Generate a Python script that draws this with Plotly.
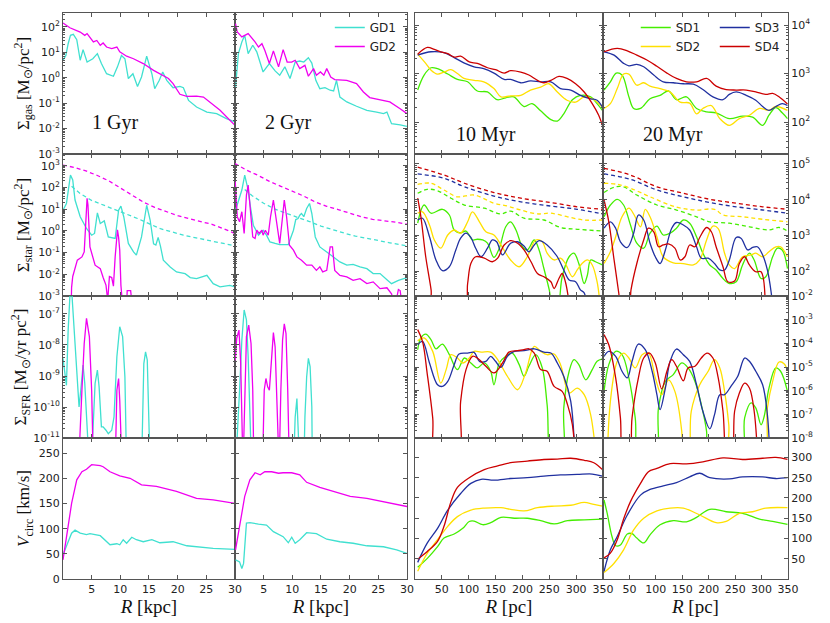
import math
import numpy as np
import plotly.graph_objects as go

# ---------------------------------------------------------------
# Left block: galaxy discs GD1 / GD2, R in kpc
# Log-panels keep log10 of the value
# ---------------------------------------------------------------

# row 1: Sigma_gas, log10 [Msun/pc^2]
gas_gd1_1gyr_r = [0, 0.5, 0.9, 1.3, 1.8, 2.4, 3.0, 3.5, 4.2, 5.2, 6.0, 6.7, 7.6, 8.8, 9.5, 10.2, 10.8, 11.4, 12.2, 13.0,
                  13.7, 14.6, 15.5, 16.0, 16.8, 17.4, 18.1, 19.2, 20.4, 21.0, 21.9, 23.3, 25.1, 26.8, 28.5, 30]
gas_gd1_1gyr = [0.69, 0.88, 1.34, 1.67, 1.71, 1.50, 0.69, 1.11, 0.62, 0.75, 0.95, 0.56, 0.16, 0.06, 0.43, 0.88, 0.75, -0.03, 0.16, -0.34,
                0.03, 0.85, 0.16, -0.43, -0.10, 0.23, -0.10, -0.39, -0.34, -0.39, -0.89, -1.15, -1.35, -1.41, -1.61, -1.74]
gas_gd2_1gyr_r = [0, 1.2, 3.0, 3.8, 4.2, 4.8, 5.3, 5.9, 6.5, 7.0, 7.6, 8.5, 9.4, 9.9, 11.1, 12.3, 14.0, 15.8, 16.9, 18.4,
                  19.2, 20.4, 21.6, 23.3, 24.5, 25.6, 27.4, 30]
gas_gd2_1gyr = [2.16, 1.97, 1.80, 1.67, 1.74, 1.58, 1.41, 1.47, 1.28, 1.37, 1.21, 1.15, 1.21, 1.02, 0.85, 0.75, 0.56, 0.29, 0.16, -0.03,
                -0.23, -0.65, -0.73, -0.72, -0.76, -0.95, -1.28, -1.87]
gas_gd1_2gyr_r = [0.1, 0.6, 1.2, 1.7, 2.3, 3.1, 3.8, 4.9, 6.0, 7.0, 7.8, 8.7, 9.6, 10.5, 11.3, 12.0, 12.8, 13.4, 14.1, 14.8,
                  15.7, 16.6, 17.2, 17.7, 18.3, 19.5, 21.2, 23.0, 24.7, 25.9, 26.5, 27.3, 28.8, 30]
gas_gd1_2gyr = [-0.36, 0.95, 1.41, 1.67, 0.95, 1.28, 1.02, 0.23, 0.56, 0.27, 0.10, 0.43, -0.03, 0.62, 0.66, 0.62, 0.79, 0.58, -0.10, -0.43,
                -0.39, -0.49, -0.52, -0.10, -0.76, -0.95, -1.12, -1.28, -1.35, -1.41, -1.35, -1.81, -1.85, -1.91]
gas_gd2_2gyr_r = [0.1, 0.4, 1.2, 2.3, 3.5, 4.1, 4.7, 5.2, 6.0, 6.7, 7.6, 8.4, 9.1, 9.9, 10.5, 11.3, 12.2, 12.8, 13.7, 14.2,
                  14.9, 15.5, 16.0, 16.7, 17.4, 19.5, 21.2, 22.4, 23.5, 25.3, 27.0, 28.8, 30]
gas_gd2_2gyr = [2.13, 1.80, 1.61, 1.74, 1.41, 1.21, 1.34, 1.08, 0.56, 1.06, 0.43, 1.11, 0.62, 0.62, 0.69, 0.36, 0.49, 0.06, 0.36, 0.10,
                0.23, 0.10, 0.36, 0.03, -0.07, -0.10, -0.23, -0.56, -0.78, -0.86, -0.95, -1.22, -1.41]

# row 2: Sigma_star, log10 [Msun/pc^2]  (solid = new stars, dashed = disc)
star_gd1_1gyr_r = [0, 0.6, 1.3, 1.7, 2.1, 3.0, 4.1, 5.0, 5.5, 6.0, 6.5, 7.2, 7.9, 9.1, 9.7, 10.1, 10.6, 11.4, 12.3, 12.8,
                   13.7, 14.6, 15.2, 15.8, 16.2, 16.6, 17.0, 17.5, 18.7, 19.8, 21.3, 22.2, 23.3, 25.1, 26.2, 27.4, 29.1, 30]
star_gd1_1gyr = [0.95, 1.26, 2.57, 2.34, 1.42, 0.65, 0.11, -0.20, -0.12, 0.83, 0.34, 0.46, -0.28, -0.35, 0.95, 1.14, 0.65, -0.58, -0.97, -1.12,
                 -0.28, 1.18, 0.50, -0.60, -0.65, -0.30, -0.70, -1.35, -1.66, -1.89, -1.97, -2.15, -2.20, -2.05, -2.43, -2.58, -2.51, -2.58]
star_gd2_1gyr_r = [0, 1.3, 1.5, 1.7, 2.5, 3.3, 3.7, 3.95, 4.1, 4.2, 4.35, 4.5, 4.7, 5.6, 6.5, 7.0, 7.5, 7.8, 8.1, 8.5,
                   8.8, 9.1, 9.3, 9.5, 9.7, 9.9, 10.1, 10.4, 10.9, 11.2, 11.8, 12.1, 12.5, 20.5, 20.7, 20.9, 30]
star_gd2_1gyr = [-5, -5, -2.6, -2.1, -1.35, -1.2, -0.97, 0.2, 1.2, 1.5, 1.2, 0.2, -0.74, -1.58, -1.74, -2.15, -2.5, -3.2, -2.1, -2.15,
                 -2.55, -1.2, -0.3, 0.05, -0.3, -0.9, -2.5, -3.5, -5, -2.75, -2.75, -3.5, -5, -5, -2.95, -5, -5]
disc_gd1_1gyr_r = [1.5, 3, 5, 7, 9, 11, 13, 15, 17, 19, 21, 23, 25, 27, 30]
disc_gd1_1gyr = [2.05, 1.72, 1.40, 1.20, 1.00, 0.80, 0.57, 0.33, 0.10, -0.05, -0.20, -0.31, -0.42, -0.53, -0.69]
disc_gd2_1gyr_r = [0, 2, 4, 6, 8, 10, 12, 14, 16, 18, 20, 22, 24, 26, 28, 30]
disc_gd2_1gyr = [3.03, 2.92, 2.76, 2.55, 2.30, 1.98, 1.65, 1.33, 1.08, 0.88, 0.70, 0.56, 0.43, 0.30, 0.10, -0.12]
star_gd1_2gyr_r = [0.1, 0.6, 1.2, 1.7, 2.3, 2.7, 3.2, 4.1, 4.9, 5.5, 6.1, 7.0, 7.8, 9.3, 10.2, 10.6, 11.0, 11.3, 11.6, 12.0,
                   12.5, 13.0, 13.4, 14.0, 14.8, 16.0, 17.2, 18.3, 19.5, 20.6, 21.8, 23.0, 24.1, 25.3, 26.5, 27.3, 28.5, 29.4, 30]
star_gd1_2gyr = [0.95, 1.42, 1.88, 2.57, 1.88, 1.11, 0.26, -0.20, 0.03, -0.20, -0.51, -0.58, -0.63, -0.63, 0.03, 0.52, 0.57, 0.72, 0.80, 0.65,
                 1.03, 1.26, 0.80, -0.28, -0.74, -0.97, -1.20, -1.43, -1.58, -1.54, -1.66, -1.74, -1.97, -1.97, -2.25, -2.43, -2.28, -2.20, -2.15]
star_gd2_2gyr_r = [0.05, 0.4, 0.8, 1.2, 1.6, 2.0, 2.3, 2.7, 3.1, 3.5, 3.8, 4.2, 4.7, 4.9, 5.3, 5.8, 6.2, 6.7, 7.1, 7.6,
                   7.8, 8.3, 8.6, 9.0, 9.5, 10.2, 10.8, 11.6, 12.5, 13.4, 14.2, 14.8, 15.3, 16.0, 16.3, 16.6, 17.0, 17.4, 18.3, 19.5,
                   20.6, 21.8, 23.0, 24.1, 25.3, 26.5, 27.3, 27.9, 28.5, 28.8, 29.2, 30]
star_gd2_2gyr = [2.26, 0.65, 0.42, 0.88, -0.12, 1.65, 2.11, 0.95, -0.28, -0.35, 0.03, -0.12, 0.03, -0.20, 0.03, -0.20, 0.65, 1.42, 0.65, -0.43,
                 -0.58, 0.65, 1.42, 0.65, -0.66, -0.89, -1.20, -1.35, -1.58, -1.58, -1.82, -1.66, -1.89, -1.82, -1.2, -0.74, -0.74, -1.82, -2.05, -2.12,
                 -2.28, -2.20, -2.43, -2.35, -2.66, -2.62, -2.90, -3.5, -2.70, -2.75, -3.5, -3.5]
disc_gd1_2gyr_r = [1.7, 3, 5, 7, 9, 11, 13, 15, 17, 19, 21, 23, 25, 27, 30]
disc_gd1_2gyr = [1.90, 1.62, 1.27, 1.00, 0.80, 0.62, 0.43, 0.22, 0.05, -0.10, -0.24, -0.35, -0.45, -0.55, -0.69]
disc_gd2_2gyr_r = [0, 2, 4, 6, 8, 10, 12, 14, 16, 18, 20, 22, 24, 26, 28, 30]
disc_gd2_2gyr = [3.10, 2.80, 2.56, 2.28, 2.05, 1.82, 1.60, 1.33, 1.13, 0.98, 0.82, 0.65, 0.53, 0.47, 0.40, 0.31]

# row 3: Sigma_SFR, log10 [Msun/yr pc^2]
sfr_gd1_1gyr_r = [0, 0.5, 0.6, 0.9, 1.2, 1.5, 1.9, 2.4, 2.8, 3.1, 3.5, 3.8, 4.2, 4.6, 5.2, 5.6, 6.0, 6.3, 6.7, 7.0,
                  7.5, 7.9, 8.5, 8.9, 9.4, 9.9, 10.4, 10.8, 11.1, 13.7, 14.1, 14.4, 14.7, 15.2, 30]
sfr_gd1_1gyr = [-8.43, -9.13, -9.3, -7.52, -6.44, -6.2, -7.3, -8.92, -10.0, -9.46, -8.65, -9.24, -10.75, -12, -10.86, -9.24, -8.81, -9.35, -10.64, -10.64,
                -10.75, -10.86, -10.75, -10.32, -8.38, -7.41, -7.73, -9.03, -12, -12, -8.6, -8.22, -8.49, -12, -12]
sfr_gd2_1gyr_r = [0, 2.7, 3.3, 3.7, 4.1, 4.6, 5.0, 5.3, 9.1, 9.4, 9.7, 9.9, 10.3, 30]
sfr_gd2_1gyr = [-12, -12, -9.46, -7.95, -7.14, -7.73, -9.46, -12, -12, -9.46, -9.08, -9.78, -12, -12]
sfr_gd1_2gyr_r = [0, 0.1, 0.8, 1.2, 1.6, 2.0, 2.3, 2.6, 2.9, 10.2, 10.5, 10.8, 11.0, 11.3, 12.0, 12.2, 12.5, 12.8, 13.1, 13.4, 13.5, 30]
sfr_gd1_2gyr = [-12, -12, -9.46, -7.84, -6.87, -7.19, -8.38, -10.54, -12, -12, -10.32, -9.73, -10.32, -12, -12, -10.32, -9.03, -8.43, -8.7, -10.0, -12, -12]
sfr_gd2_2gyr_r = [0.05, 0.3, 0.7, 1.0, 1.4, 1.75, 2.0, 2.4, 2.8, 3.1, 3.3, 4.8, 5.1, 5.4, 5.7, 6.0, 6.3, 6.7, 7.0, 7.4,
                  7.7, 8.0, 8.3, 8.6, 8.9, 9.2, 9.5, 30]
sfr_gd2_2gyr = [-8.49, -7.79, -7.52, -8.6, -12, -9.5, -7.73, -7.36, -7.95, -9.46, -12, -12, -9.46, -9.08, -9.35, -9.46, -8.6, -7.6, -8.06, -10.0,
                -12, -9.46, -7.84, -7.32, -7.63, -9.46, -12, -12]

# row 4: V_circ [km/s]
vc_gd1_1gyr_r = [0, 0.6, 1.5, 2.1, 3.0, 4.1, 4.7, 6.5, 8.2, 9.4, 9.9, 10.5, 11.1, 12.0, 12.8, 14.0, 15.5, 16.9, 19.2, 21.6, 23.3, 26.2, 30]
vc_gd1_1gyr = [48, 64, 91, 97, 91, 88, 90, 86, 68, 70, 68, 78, 71, 83, 78, 74, 78, 72, 74, 66, 64, 61, 59]
vc_gd2_1gyr_r = [0, 0.6, 1.5, 2.4, 3.3, 4.1, 5.0, 6.5, 7.0, 8.2, 9.9, 11.7, 13.7, 16.3, 19.8, 23.3, 26.2, 30]
vc_gd2_1gyr = [38, 84, 150, 197, 213, 218, 227, 225, 223, 213, 205, 200, 187, 184, 174, 160, 157, 150]
vc_gd1_2gyr_r = [0.1, 0.8, 1.2, 1.5, 2.0, 2.6, 4.1, 5.5, 6.7, 8.4, 9.3, 9.9, 10.5, 11.3, 12.5, 14.2, 16.0, 18.3, 20.6, 23.0, 25.9, 28.2, 30]
vc_gd1_2gyr = [38, 34, 21, 31, 111, 112, 109, 107, 94, 84, 72, 83, 71, 78, 92, 90, 79, 74, 71, 66, 64, 58, 51]
vc_gd2_2gyr_r = [0.1, 0.9, 1.7, 2.6, 3.5, 4.4, 5.2, 6.4, 7.6, 8.4, 9.9, 11.3, 12.5, 14.8, 17.2, 20.1, 23.0, 26.5, 30]
vc_gd2_2gyr = [58, 111, 164, 197, 211, 207, 213, 213, 210, 211, 211, 207, 192, 182, 174, 164, 160, 152, 144]

# ---------------------------------------------------------------
# Right block: small discs SD1..SD4, R in pc
# ---------------------------------------------------------------

# row 1: Sigma_gas, log10
gas_sd1_10_r = [5, 17, 30, 42, 61, 79, 98, 116, 135, 153, 169, 184, 203, 218, 234, 253, 265, 277, 293, 308, 327, 339, 349]
gas_sd1_10 = [2.66, 2.97, 3.12, 3.10, 2.99, 2.88, 2.83, 2.64, 2.62, 2.46, 2.50, 2.52, 2.32, 2.38, 2.23, 2.05, 2.02, 2.17, 2.46, 2.55, 2.52, 2.38, 2.24]
gas_sd2_10_r = [5, 20, 30, 42, 54, 67, 79, 91, 110, 128, 147, 160, 178, 197, 215, 234, 249, 265, 283, 299, 315, 330, 349]
gas_sd2_10 = [3.40, 3.21, 3.07, 2.99, 3.03, 3.08, 3.00, 2.90, 2.86, 2.83, 2.69, 2.52, 2.54, 2.55, 2.66, 2.72, 2.79, 2.62, 2.45, 2.41, 2.52, 2.48, 2.31]
gas_sd3_10_r = [5, 30, 54, 73, 91, 110, 128, 147, 166, 178, 197, 215, 234, 253, 271, 290, 308, 327, 339, 349]
gas_sd3_10 = [3.38, 3.45, 3.43, 3.33, 3.22, 3.14, 3.10, 3.01, 2.88, 2.88, 2.81, 2.85, 2.83, 2.83, 2.69, 2.66, 2.55, 2.48, 2.45, 2.31]
gas_sd4_10_r = [5, 23, 36, 48, 61, 73, 85, 101, 116, 135, 150, 166, 178, 197, 212, 228, 240, 253, 268, 283, 299, 315, 330, 342, 349]
gas_sd4_10 = [3.40, 3.54, 3.50, 3.45, 3.41, 3.34, 3.36, 3.24, 3.21, 3.12, 3.08, 3.01, 3.06, 3.03, 2.97, 2.86, 2.81, 2.86, 2.94, 2.90, 2.79, 2.62, 2.38, 2.14, 1.93]
gas_sd1_20_r = [2, 14, 25, 36, 49, 58, 71, 89, 108, 124, 139, 158, 177, 196, 214, 239, 264, 283, 302, 314, 327, 339, 349]
gas_sd1_20 = [2.66, 2.83, 3.01, 2.97, 2.52, 2.28, 2.28, 2.48, 2.55, 2.64, 2.46, 2.52, 2.28, 2.21, 2.19, 2.07, 2.12, 2.10, 1.93, 2.14, 2.30, 2.19, 2.07]
gas_sd2_20_r = [2, 14, 27, 39, 49, 64, 77, 89, 108, 127, 146, 164, 177, 189, 205, 221, 239, 258, 277, 296, 314, 327, 349]
gas_sd2_20 = [2.28, 2.38, 2.69, 2.99, 2.99, 2.76, 2.81, 2.74, 2.69, 2.62, 2.41, 2.39, 2.17, 2.28, 2.34, 2.07, 1.93, 2.07, 2.14, 2.28, 2.24, 2.32, 2.24]
gas_sd3_20_r = [2, 21, 39, 49, 64, 77, 96, 114, 133, 152, 171, 189, 208, 227, 239, 252, 271, 289, 302, 314, 327, 339, 349]
gas_sd3_20 = [3.45, 3.38, 3.21, 3.16, 3.19, 3.14, 2.97, 2.83, 2.81, 2.79, 2.78, 2.67, 2.52, 2.46, 2.57, 2.62, 2.55, 2.45, 2.32, 2.24, 2.32, 2.38, 2.34]
gas_sd4_20_r = [2, 27, 46, 64, 83, 102, 121, 139, 158, 177, 196, 214, 233, 252, 271, 289, 308, 321, 333, 349]
gas_sd4_20 = [3.45, 3.52, 3.47, 3.38, 3.28, 3.15, 3.01, 2.90, 2.83, 2.83, 2.90, 2.74, 2.67, 2.66, 2.66, 2.62, 2.57, 2.59, 2.52, 2.37]

# row 2: Sigma_star, log10 (solid = new stars, dashed = disc)
star_sd1_10_r = [5, 17, 30, 51, 64, 73, 85, 95, 107, 116, 126, 135, 147, 157, 169, 178, 188, 200, 209, 222,
                 231, 240, 250, 256, 265, 274, 287, 296, 305, 315, 321, 327, 336, 349]
star_sd1_10 = [3.34, 3.85, 3.62, 3.73, 3.57, 3.15, 3.07, 3.12, 2.87, 2.89, 2.87, 2.78, 2.38, 2.64, 3.24, 3.38, 3.15, 2.68, 2.59, 2.87,
               2.59, 2.07, 1.47, 1.0, 1.0, 1.84, 2.40, 2.50, 2.21, 1.65, 1.89, 2.31, 2.26, 2.17]
star_sd2_10_r = [5, 14, 27, 36, 48, 61, 73, 85, 98, 107, 120, 132, 147, 160, 178, 194, 209, 225, 237, 246,
                 259, 271, 280, 293, 302, 311, 321, 330, 339, 345]
star_sd2_10 = [3.62, 3.66, 3.29, 2.87, 2.64, 3.01, 3.15, 3.06, 3.38, 3.66, 3.38, 3.10, 3.01, 2.73, 2.31, 2.12, 2.40, 2.87, 2.82, 2.50,
               2.31, 2.36, 2.21, 1.84, 2.03, 2.21, 2.31, 2.17, 1.70, 1.0]
star_sd3_10_r = [5, 14, 27, 39, 51, 64, 76, 85, 95, 104, 113, 123, 135, 144, 152, 163, 178, 191, 203, 212,
                 222, 231, 246, 265, 277, 287, 299, 308, 315, 320]
star_sd3_10 = [3.43, 3.48, 2.96, 2.31, 2.01, 2.12, 2.59, 2.92, 3.06, 2.94, 2.64, 2.40, 2.64, 2.87, 2.82, 2.45, 2.78, 2.82, 2.70, 2.54,
               2.73, 2.85, 2.73, 2.40, 2.03, 1.75, 1.70, 1.47, 1.39, 1.0]
star_sd4_10_r = [5, 11, 20, 30, 33, 92, 98, 104, 113, 129, 144, 154, 166, 178, 191, 203, 216, 228, 240, 253, 259, 268, 274, 280, 288]
star_sd4_10 = [4.04, 3.52, 2.40, 1.47, 1.0, 1.0, 1.65, 2.21, 2.40, 2.36, 2.26, 2.36, 2.73, 2.85, 2.78, 2.59, 2.26, 1.93, 1.84, 1.70,
               1.51, 1.79, 1.93, 1.70, 1.0]
disc_sd1_10_r = [5, 23, 42, 67, 92, 129, 160, 178, 203, 240, 271, 302, 349]
disc_sd1_10 = [4.18, 4.29, 4.25, 4.04, 3.85, 3.76, 3.60, 3.68, 3.48, 3.43, 3.22, 3.17, 3.12]
disc_sd2_10_r = [5, 30, 54, 79, 110, 147, 172, 197, 228, 253, 284, 315, 349]
disc_sd2_10 = [4.43, 4.46, 4.27, 4.08, 4.13, 3.90, 3.82, 3.71, 3.60, 3.62, 3.52, 3.43, 3.43]
disc_sd3_10_r = [5, 54, 92, 147, 197, 253, 302, 349]
disc_sd3_10 = [4.72, 4.60, 4.36, 4.10, 3.94, 3.82, 3.73, 3.60]
disc_sd4_10_r = [5, 54, 92, 147, 197, 253, 302, 349]
disc_sd4_10 = [4.91, 4.69, 4.46, 4.20, 4.04, 3.92, 3.80, 3.73]
star_sd1_20_r = [2, 14, 27, 39, 52, 64, 77, 89, 102, 114, 127, 139, 152, 164, 177, 189, 202, 214, 227, 239,
                 252, 264, 277, 286, 299, 308, 321, 330, 339, 349]
star_sd1_20 = [3.52, 3.85, 4.01, 3.85, 3.29, 2.78, 2.64, 3.06, 3.26, 3.01, 3.06, 3.20, 3.43, 3.34, 2.96, 2.50, 2.17, 2.03, 1.79, 1.65,
               1.70, 2.17, 2.50, 2.31, 1.79, 1.84, 2.40, 2.64, 2.59, 2.07]
star_sd2_20_r = [2, 14, 24, 36, 49, 59, 71, 80, 89, 102, 114, 133, 152, 171, 183, 196, 208, 218, 230, 239,
                 249, 264, 280, 289, 302, 314, 327, 336, 349]
star_sd2_20 = [2.21, 2.54, 2.96, 3.52, 3.76, 3.57, 3.24, 3.73, 3.52, 2.96, 2.40, 2.23, 2.21, 2.17, 2.31, 2.87, 3.26, 3.19, 2.50, 2.17,
               2.07, 2.40, 2.45, 2.50, 2.40, 2.54, 2.68, 2.68, 2.40]
star_sd3_20_r = [2, 14, 24, 33, 46, 58, 67, 77, 89, 99, 108, 118, 130, 139, 152, 164, 177, 186, 199, 211,
                 221, 230, 239, 252, 261, 274, 283, 292, 302, 311, 318, 321]
star_sd3_20 = [3.20, 3.38, 3.20, 2.82, 2.66, 3.06, 3.57, 3.43, 2.78, 2.40, 2.21, 2.59, 3.20, 3.36, 3.29, 3.15, 2.68, 2.36, 2.36, 2.21,
               2.03, 2.03, 2.31, 2.94, 2.92, 2.59, 2.66, 2.68, 2.45, 2.03, 1.42, 1.0]
star_sd4_20_r = [2, 11, 21, 30, 33, 49, 53, 64, 77, 86, 96, 105, 114, 124, 136, 146, 155, 164, 174, 183,
                 196, 205, 214, 227, 236, 249, 258, 268, 277, 289, 299, 307]
star_sd4_20 = [3.99, 3.38, 2.31, 1.37, 1.0, 1.0, 1.47, 2.21, 2.87, 3.20, 3.10, 2.68, 2.73, 2.76, 2.64, 2.31, 2.40, 2.73, 2.68, 2.94,
               3.22, 3.10, 2.68, 2.12, 1.70, 1.72, 2.21, 2.40, 2.17, 1.98, 1.98, 1.0]
disc_sd1_20_r = [2, 21, 39, 64, 102, 139, 177, 202, 239, 277, 314, 333, 349]
disc_sd1_20 = [4.20, 4.35, 4.36, 4.13, 3.85, 3.71, 3.52, 3.38, 3.34, 3.24, 3.15, 3.22, 3.12]
disc_sd2_20_r = [2, 27, 52, 89, 139, 177, 211, 227, 264, 302, 349]
disc_sd2_20 = [4.46, 4.43, 4.32, 4.08, 3.79, 3.71, 3.73, 3.57, 3.52, 3.45, 3.38]
disc_sd3_20_r = [2, 52, 102, 152, 202, 252, 302, 349]
disc_sd3_20 = [4.72, 4.57, 4.27, 4.08, 3.92, 3.80, 3.71, 3.62]
disc_sd4_20_r = [2, 52, 102, 152, 202, 252, 302, 349]
disc_sd4_20 = [4.88, 4.69, 4.36, 4.18, 4.01, 3.90, 3.80, 3.73]

# row 3: Sigma_SFR, log10
sfr_sd1_10_r = [5, 11, 20, 30, 39, 51, 64, 79, 92, 104, 116, 129, 141, 147, 157, 169, 181, 194, 203, 212,
                225, 237, 246, 256, 274, 277, 287, 296, 305, 318, 330, 339, 349]
sfr_sd1_10 = [-4.27, -3.77, -3.61, -3.85, -4.23, -4.03, -4.48, -5.11, -4.62, -4.83, -5.04, -4.83, -5.18, -5.75, -4.83, -4.55, -4.41, -4.9, -5.39, -4.97,
              -4.48, -5.04, -6.59, -9, -9, -6.73, -5.18, -4.69, -4.9, -5.54, -5.11, -4.76, -4.66]
sfr_sd2_10_r = [5, 17, 33, 48, 58, 67, 79, 89, 101, 110, 123, 141, 154, 172, 191, 206, 222, 234, 246, 259, 271, 287, 302, 315, 327, 338]
sfr_sd2_10 = [-3.89, -3.77, -4.34, -5.68, -5.11, -4.48, -4.62, -4.83, -4.62, -4.34, -4.37, -4.37, -4.69, -5.39, -5.96, -5.25, -4.13, -4.34, -4.48, -4.45,
              -4.9, -6.1, -5.89, -6.17, -7.01, -9]
sfr_sd3_10_r = [5, 14, 27, 42, 51, 61, 73, 82, 98, 110, 120, 132, 141, 150, 160, 172, 185, 203, 222, 240, 253, 265, 277, 290, 298]
sfr_sd3_10 = [-4.06, -3.92, -4.83, -5.75, -5.82, -5.61, -4.9, -4.45, -4.41, -4.38, -4.76, -4.76, -4.55, -4.76, -5.01, -4.55, -4.34, -4.31, -4.23, -4.37,
              -4.41, -4.83, -5.39, -6.45, -9]
sfr_sd4_10_r = [5, 14, 23, 33, 39, 79, 85, 95, 107, 116, 132, 147, 163, 175, 191, 203, 212, 222, 234, 246, 259, 274, 284, 293, 299]
sfr_sd4_10 = [-3.42, -3.92, -5.32, -7.15, -9, -9, -6.45, -5.11, -4.55, -4.62, -4.97, -5.25, -4.83, -4.37, -4.31, -4.27, -4.23, -4.41, -5.11, -5.18,
              -5.82, -6.03, -6.59, -7.44, -9]
sfr_sd1_20_r = [2, 11, 24, 36, 49, 61, 69, 99, 105, 118, 133, 149, 161, 174, 186, 196, 199, 261, 268, 280, 289, 299, 305, 314, 327, 336, 349]
sfr_sd1_20 = [-6.03, -4.9, -4.34, -4.48, -5.46, -7.15, -9, -9, -6.73, -5.61, -5.32, -4.83, -5.04, -5.61, -6.59, -7.72, -9, -9, -7.15, -6.52,
              -6.73, -7.44, -7.08, -5.89, -5.04, -5.18, -6.03]
sfr_sd2_20_r = [8, 14, 27, 39, 49, 61, 74, 86, 99, 111, 124, 136, 149, 152, 161, 167, 183, 199, 211, 221, 230, 238, 243, 302, 311, 321, 333, 343, 349]
sfr_sd2_20 = [-9, -6.45, -4.76, -4.41, -4.62, -5.04, -4.48, -4.41, -5.46, -6.17, -5.54, -6.03, -7.72, -9, -9, -6.87, -5.75, -5.18, -4.69, -5.04,
              -6.03, -7.44, -9, -9, -6.73, -5.61, -4.79, -4.87, -5.18]
sfr_sd3_20_r = [2, 11, 24, 36, 46, 55, 67, 80, 93, 102, 108, 118, 127, 139, 152, 164, 177, 189, 202, 211,
                221, 230, 242, 255, 268, 277, 289, 302, 311, 316]
sfr_sd3_20 = [-4.55, -4.34, -4.55, -5.18, -5.46, -4.76, -4.03, -4.27, -5.18, -6.17, -6.8, -5.89, -4.76, -4.24, -4.48, -4.76, -5.75, -6.87, -7.61, -7.01,
              -6.17, -6.17, -5.82, -5.39, -4.62, -4.76, -5.18, -5.75, -7.01, -9]
sfr_sd4_20_r = [2, 11, 24, 33, 39, 49, 55, 67, 77, 88, 99, 111, 121, 130, 139, 152, 161, 174, 186, 197,
                208, 218, 227, 236, 243, 249, 258, 268, 277, 286, 293]
sfr_sd4_20 = [-3.63, -4.06, -5.46, -7.15, -9, -9, -7.15, -5.46, -4.62, -4.41, -4.83, -5.92, -5.18, -4.69, -4.97, -5.58, -5.04, -4.97, -4.62, -4.41,
              -4.62, -5.46, -6.87, -9, -9, -6.87, -6.1, -5.68, -5.89, -6.87, -9]

# row 4: V_circ [km/s]
vc_sd1_10_r = [5, 23, 42, 54, 73, 89, 101, 110, 126, 141, 160, 185, 209, 234, 259, 284, 315, 349]
vc_sd1_10 = [29, 51, 80, 101, 111, 125, 142, 143, 134, 139, 152, 150, 150, 144, 136, 144, 146, 148]
vc_sd2_10_r = [5, 23, 42, 61, 79, 104, 129, 160, 178, 203, 228, 259, 290, 315, 333, 349]
vc_sd2_10 = [19, 64, 97, 130, 154, 170, 175, 176, 172, 168, 176, 180, 182, 189, 184, 180]
vc_sd3_10_r = [5, 23, 42, 61, 85, 104, 123, 147, 178, 209, 240, 271, 302, 330, 349]
vc_sd3_10 = [41, 89, 125, 170, 211, 236, 246, 244, 248, 250, 254, 257, 258, 259, 254]
vc_sd4_10_r = [5, 23, 42, 54, 67, 79, 101, 129, 154, 178, 209, 240, 265, 290, 315, 333, 349]
vc_sd4_10 = [49, 68, 93, 130, 191, 226, 250, 270, 279, 287, 291, 295, 296, 298, 293, 287, 270]
vc_sd1_20_r = [2, 8, 17, 24, 33, 46, 55, 64, 77, 89, 108, 133, 158, 177, 202, 233, 264, 296, 321, 349]
vc_sd1_20 = [195, 162, 105, 82, 84, 111, 112, 101, 89, 109, 134, 144, 141, 152, 172, 166, 162, 148, 142, 135]
vc_sd2_20_r = [2, 21, 39, 58, 77, 102, 127, 152, 183, 214, 233, 258, 283, 308, 349]
vc_sd2_20 = [16, 39, 72, 121, 150, 168, 175, 175, 158, 139, 142, 162, 166, 175, 176]
vc_sd3_20_r = [2, 14, 27, 46, 71, 89, 114, 139, 164, 183, 202, 239, 264, 302, 327, 349]
vc_sd3_20 = [19, 72, 105, 158, 207, 221, 230, 238, 252, 261, 250, 247, 252, 252, 248, 250]
vc_sd4_20_r = [2, 14, 27, 39, 52, 71, 86, 102, 127, 158, 189, 227, 264, 302, 327, 349]
vc_sd4_20 = [52, 64, 97, 148, 191, 236, 265, 273, 285, 284, 289, 299, 295, 298, 300, 295]

panel_labels = ["1 Gyr", "2 Gyr", "10 Myr", "20 Myr"]
row_titles = ["Σ<sub>gas</sub> [M<sub>⊙</sub>/pc<sup>2</sup>]",
              "Σ<sub>star</sub> [M<sub>⊙</sub>/pc<sup>2</sup>]",
              "Σ<sub>SFR</sub> [M<sub>⊙</sub>/yr pc<sup>2</sup>]",
              "<i>V</i><sub>circ</sub> [km/s]"]

COLORS = {"GD1": "#40E0D0", "GD2": "#F000F0",
          "SD1": "#44EE00", "SD2": "#FFE000", "SD3": "#2030A0", "SD4": "#CC0000"}
AX = "#555555"
SERIF = "Liberation Serif"

# panel geometry (paper fractions)
X_DOM = [[0.0, 0.2372], [0.2372, 0.4745], [0.4855, 0.7448], [0.7448, 1.0]]
Y_DOM = [[0.7509, 1.0], [0.5, 0.7509], [0.2491, 0.5], [0.0, 0.2491]]
# y ranges per row: (left block, right block); log rows in decades
Y_RANGE = [([-3, 2.55], [1.34, 4.25]),
           ([-3, 3.54], [1.3, 5.28]),
           ([-11, -6.42], [-8, -2]),
           ([0, 280], [0, 348])]

fig = go.Figure()


def suffix(row, col):
    k = row * 4 + col + 1
    return "" if k == 1 else str(k)


def add_curve(row, col, r, vals, name, dash=None, legend=None):
    s = suffix(row, col)
    y = np.power(10.0, vals) if row < 3 else vals
    shape = "linear" if col < 2 else "spline"
    fig.add_trace(go.Scatter(
        x=r, y=y, mode="lines", name=name,
        xaxis="x" + s, yaxis="y" + s,
        line=dict(color=COLORS[name], width=1.3, dash=dash, shape=shape),
        showlegend=legend is not None,
        legend=legend or "legend",
        hoverinfo="skip",
    ))


DASH = "4px,3px"

# --- left block ---
add_curve(0, 0, gas_gd1_1gyr_r, gas_gd1_1gyr, "GD1")
add_curve(0, 0, gas_gd2_1gyr_r, gas_gd2_1gyr, "GD2")
add_curve(0, 1, gas_gd1_2gyr_r, gas_gd1_2gyr, "GD1", legend="legend")
add_curve(0, 1, gas_gd2_2gyr_r, gas_gd2_2gyr, "GD2", legend="legend")

add_curve(1, 0, disc_gd1_1gyr_r, disc_gd1_1gyr, "GD1", dash=DASH)
add_curve(1, 0, disc_gd2_1gyr_r, disc_gd2_1gyr, "GD2", dash=DASH)
add_curve(1, 0, star_gd1_1gyr_r, star_gd1_1gyr, "GD1")
add_curve(1, 0, star_gd2_1gyr_r, star_gd2_1gyr, "GD2")
add_curve(1, 1, disc_gd1_2gyr_r, disc_gd1_2gyr, "GD1", dash=DASH)
add_curve(1, 1, disc_gd2_2gyr_r, disc_gd2_2gyr, "GD2", dash=DASH)
add_curve(1, 1, star_gd1_2gyr_r, star_gd1_2gyr, "GD1")
add_curve(1, 1, star_gd2_2gyr_r, star_gd2_2gyr, "GD2")

add_curve(2, 0, sfr_gd1_1gyr_r, sfr_gd1_1gyr, "GD1")
add_curve(2, 0, sfr_gd2_1gyr_r, sfr_gd2_1gyr, "GD2")
add_curve(2, 1, sfr_gd1_2gyr_r, sfr_gd1_2gyr, "GD1")
add_curve(2, 1, sfr_gd2_2gyr_r, sfr_gd2_2gyr, "GD2")

add_curve(3, 0, vc_gd1_1gyr_r, vc_gd1_1gyr, "GD1")
add_curve(3, 0, vc_gd2_1gyr_r, vc_gd2_1gyr, "GD2")
add_curve(3, 1, vc_gd1_2gyr_r, vc_gd1_2gyr, "GD1")
add_curve(3, 1, vc_gd2_2gyr_r, vc_gd2_2gyr, "GD2")

# --- right block ---
sd_legend = {"SD1": "legend2", "SD2": "legend2", "SD3": "legend3", "SD4": "legend3"}
right = {
    (0, 2): [(gas_sd1_10_r, gas_sd1_10), (gas_sd2_10_r, gas_sd2_10), (gas_sd3_10_r, gas_sd3_10), (gas_sd4_10_r, gas_sd4_10)],
    (0, 3): [(gas_sd1_20_r, gas_sd1_20), (gas_sd2_20_r, gas_sd2_20), (gas_sd3_20_r, gas_sd3_20), (gas_sd4_20_r, gas_sd4_20)],
    (1, 2): [(star_sd1_10_r, star_sd1_10), (star_sd2_10_r, star_sd2_10), (star_sd3_10_r, star_sd3_10), (star_sd4_10_r, star_sd4_10)],
    (1, 3): [(star_sd1_20_r, star_sd1_20), (star_sd2_20_r, star_sd2_20), (star_sd3_20_r, star_sd3_20), (star_sd4_20_r, star_sd4_20)],
    (2, 2): [(sfr_sd1_10_r, sfr_sd1_10), (sfr_sd2_10_r, sfr_sd2_10), (sfr_sd3_10_r, sfr_sd3_10), (sfr_sd4_10_r, sfr_sd4_10)],
    (2, 3): [(sfr_sd1_20_r, sfr_sd1_20), (sfr_sd2_20_r, sfr_sd2_20), (sfr_sd3_20_r, sfr_sd3_20), (sfr_sd4_20_r, sfr_sd4_20)],
    (3, 2): [(vc_sd1_10_r, vc_sd1_10), (vc_sd2_10_r, vc_sd2_10), (vc_sd3_10_r, vc_sd3_10), (vc_sd4_10_r, vc_sd4_10)],
    (3, 3): [(vc_sd1_20_r, vc_sd1_20), (vc_sd2_20_r, vc_sd2_20), (vc_sd3_20_r, vc_sd3_20), (vc_sd4_20_r, vc_sd4_20)],
}
discs = {
    (1, 2): [(disc_sd1_10_r, disc_sd1_10), (disc_sd2_10_r, disc_sd2_10), (disc_sd3_10_r, disc_sd3_10), (disc_sd4_10_r, disc_sd4_10)],
    (1, 3): [(disc_sd1_20_r, disc_sd1_20), (disc_sd2_20_r, disc_sd2_20), (disc_sd3_20_r, disc_sd3_20), (disc_sd4_20_r, disc_sd4_20)],
}
names = ["SD1", "SD2", "SD3", "SD4"]
for (row, col), curves in discs.items():
    for nm, (r, v) in zip(names, curves):
        add_curve(row, col, r, v, nm, dash=DASH)
for (row, col), curves in right.items():
    for nm, (r, v) in zip(names, curves):
        leg = sd_legend[nm] if (row, col) == (0, 3) else None
        add_curve(row, col, r, v, nm, legend=leg)


def log_ticks(lo, hi):
    vals = [10.0 ** e for e in range(lo, hi + 1)]
    text = ["10<sup>%d</sup>" % e for e in range(lo, hi + 1)]
    minor = [m * 10.0 ** e for e in range(lo - 1, hi + 1) for m in range(2, 10)]
    return vals, text, minor


layout_axes = {}
for row in range(4):
    for col in range(4):
        s = suffix(row, col)
        left_block = col < 2
        if left_block:
            xt = [0, 5, 10, 15, 20, 25, 30]
            xr = [0, 30]
            xtitle = "<i>R</i> [kpc]"
        else:
            xt = [0, 50, 100, 150, 200, 250, 300, 350]
            xr = [0, 350]
            xtitle = "<i>R</i> [pc]"
        xa = dict(domain=X_DOM[col], anchor="y" + s, range=xr, automargin=False,
                  tickmode="array", tickvals=xt, ticktext=[""] + [str(t) for t in xt[1:]],
                  showticklabels=(row == 3), ticks="inside", ticklen=4, tickcolor=AX,
                  showline=True, linecolor=AX, linewidth=1, mirror="ticks",
                  showgrid=False, zeroline=False, fixedrange=True,
                  tickfont=dict(size=11, color="#222222"))
        if row == 3:
            xa["title"] = dict(text=xtitle, font=dict(family=SERIF, size=19, color="#111111"), standoff=1)
        layout_axes["xaxis" + s] = xa

        yr = Y_RANGE[row][0 if left_block else 1]
        ya = dict(domain=Y_DOM[row], anchor="x" + s, range=yr, automargin=False,
                  ticks="inside", ticklen=4, tickcolor=AX,
                  showline=True, linecolor=AX, linewidth=1, mirror="ticks",
                  showgrid=False, zeroline=False, fixedrange=True,
                  showticklabels=(col in (0, 3)),
                  side="right" if col == 3 else "left",
                  tickfont=dict(size=11, color="#222222"))
        if row < 3:
            vals, text, minor = log_ticks(math.ceil(yr[0] - 1e-6), math.floor(yr[1] + 1e-6))
            ya.update(type="log", tickmode="array", tickvals=vals, ticktext=text,
                      minor=dict(tickmode="array", tickvals=minor, ticks="inside",
                                 ticklen=2, tickcolor=AX, showgrid=False))
        else:
            if left_block:
                yt = [0, 50, 100, 150, 200, 250]
                ya.update(tickmode="array", tickvals=yt, ticktext=[str(t) for t in yt])
            else:
                yt = [0, 50, 100, 150, 200, 250, 300]
                ya.update(tickmode="array", tickvals=yt, ticktext=[""] + [str(t) for t in yt[1:]])
        if col == 0:
            ya["title"] = dict(text=row_titles[row], font=dict(family=SERIF, size=17, color="#111111"), standoff=4)
        layout_axes["yaxis" + s] = ya

annotations = []
label_pos = [(0.30, 0.22), (0.31, 0.22), (0.38, 0.14), (0.38, 0.14)]
for col, txt in enumerate(panel_labels):
    s = suffix(0, col)
    annotations.append(dict(text=txt, x=label_pos[col][0], y=label_pos[col][1],
                            xref="x%s domain" % s, yref="y%s domain" % s,
                            xanchor="center", yanchor="middle",
                            showarrow=False, font=dict(family=SERIF, size=20, color="#111111")))

legend_style = dict(bgcolor="rgba(0,0,0,0)", borderwidth=0, xanchor="left", yanchor="top",
                    font=dict(size=12, color="#222222"), tracegroupgap=0, itemwidth=30)

# the page body adds an 8px offset, so the figure is drawn 8px smaller
fig.update_layout(
    template="none",
    width=822, height=615,
    margin=dict(l=55, r=42, t=5, b=44),
    paper_bgcolor="white", plot_bgcolor="white",
    font=dict(family="DejaVu Sans", size=11, color="#222222"),
    annotations=annotations,
    legend=dict(x=0.368, y=1.0, **legend_style),
    legend2=dict(x=0.790, y=1.0, **legend_style),
    legend3=dict(x=0.899, y=1.0, **legend_style),
    **layout_axes,
)

fig.write_html("out.html")
